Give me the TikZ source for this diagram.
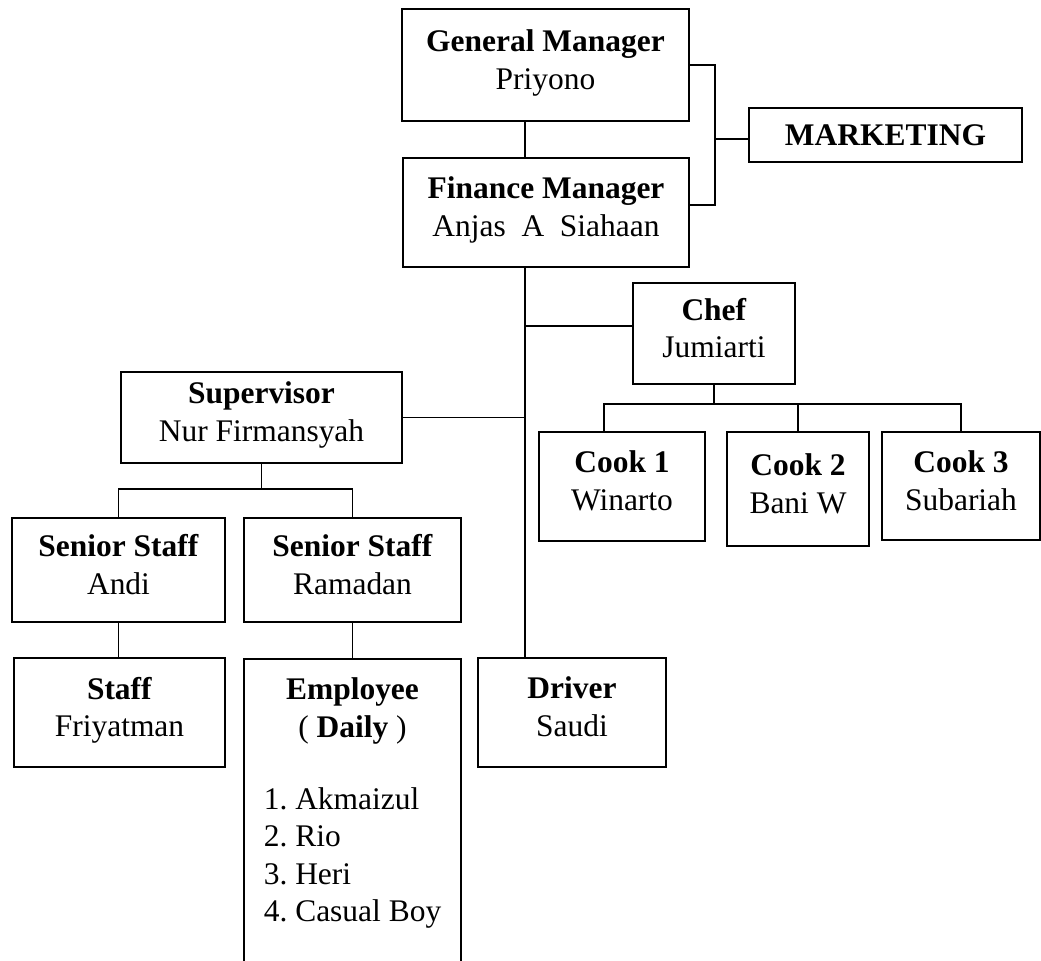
\documentclass[tikz,border=0pt]{standalone}
\usepackage{fontspec}
\setmainfont{Liberation Serif}
\usepackage{tikz}

\begin{document}
\begin{tikzpicture}[x=0.75pt,y=-0.75pt,line width=1.2pt]
		\tikzstyle{box}  = [rectangle,draw,inner sep=0pt,align=center,font=\fontsize{23.6pt}{28.2pt}\selectfont\frenchspacing]
		\tikzstyle{role} = [box,execute at begin node=\strut,execute at end node=\strut]
		\tikzstyle{txt}  = [inner sep=0pt,font=\fontsize{23.6pt}{28.2pt}\selectfont\frenchspacing]
		\useasboundingbox (0,0) rectangle (1041,960);
		
		\coordinate (spine) at (525,0);
		\coordinate (brk)   at (715,0);
		\coordinate (cbus)  at (0,404);
		\coordinate (sbus)  at (0,489);
		
		\node[role,minimum width=215.25pt,minimum height=84pt]    (gm)    at (545.5,65)   {\textbf{General Manager}\\Priyono};
		\node[role,minimum width=214.5pt,minimum height=81.75pt]  (fm)    at (546,212.5)  {\textbf{Finance Manager}\\Anjas~~A~~Siahaan};
		\node[box,minimum width=204.75pt,minimum height=40.5pt]   (mkt)   at (885.5,135)  {\textbf{MARKETING}};
		\node[role,minimum width=121.5pt,minimum height=75.75pt]  (chef)  at (714,333.5)  {\textbf{Chef}\\Jumiarti};
		\node[role,minimum width=210.75pt,minimum height=68.25pt] (sup)   at (261.5,417.5){\textbf{Supervisor}\\Nur Firmansyah};
		\node[role,minimum width=124.5pt,minimum height=81.75pt]  (cook1) at (622,486.5)  {\textbf{Cook 1}\\Winarto};
		\node[role,minimum width=106.5pt,minimum height=85.5pt]   (cook2) at (798,489)    {\textbf{Cook 2}\\Bani W};
		\node[role,minimum width=118.5pt,minimum height=81pt]     (cook3) at (961,486)    {\textbf{Cook 3}\\Subariah};
		\node[role,minimum width=159.75pt,minimum height=78pt]    (ssa)   at (118.5,570)  {\textbf{Senior Staff}\\Andi};
		\node[role,minimum width=162.75pt,minimum height=78pt]    (ssr)   at (352.5,570)  {\textbf{Senior Staff}\\Ramadan};
		\node[role,minimum width=158.25pt,minimum height=81.75pt] (staff) at (119.5,712.5) {\textbf{Staff}\\Friyatman};
		\node[role,minimum width=141pt,minimum height=81.75pt]    (drv)   at (572,712.5)  {\textbf{Driver}\\Saudi};
		\node[box,minimum width=162.75pt,minimum height=232.5pt,anchor=north] (emp) at (352.5,658) {};
		\node[txt,anchor=north,align=center]     (emphead) at (352.5,677) {\textbf{Employee}\\( \textbf{Daily} )};
		\node[txt,anchor=north west,align=left]  (emplist) at (263,786.5) {1. Akmaizul\\2. Rio\\3. Heri\\4. Casual Boy};
		
		\coordinate (fmr) at ([yshift=5.6pt]fm.east);
		\coordinate (mkl) at ([yshift=-3pt]mkt.west);
		\coordinate (chl) at ([yshift=5.6pt]chef.west);
		\coordinate (c1t) at ([xshift=-13.5pt]cook1.north);
		
		\draw (gm.south -| spine) -- (fm.north -| spine);
		\draw (fm.south -| spine) -- (drv.north -| spine);
		\draw (gm.east) -| (brk |- fmr) -- (fmr);
		\draw (brk |- mkl) -- (mkl);
		\draw (spine |- chl) -- (chl);
		\draw (sup.east) -- (spine |- sup.east);
		\draw (chef.south) -- (chef.south |- cbus);
		\draw (c1t) |- (cook3.north |- cbus) -- (cook3.north);
		\draw (cook2.north) -- (cook2.north |- cbus);
		\draw (sup.south) -- (sup.south |- sbus);
		\draw (ssa.north) |- (ssr.north |- sbus) -- (ssr.north);
		\draw (ssa.south) -- (ssa.south |- staff.north);
		\draw (ssr.south) -- (emp.north);
	\end{tikzpicture}
\end{document}
